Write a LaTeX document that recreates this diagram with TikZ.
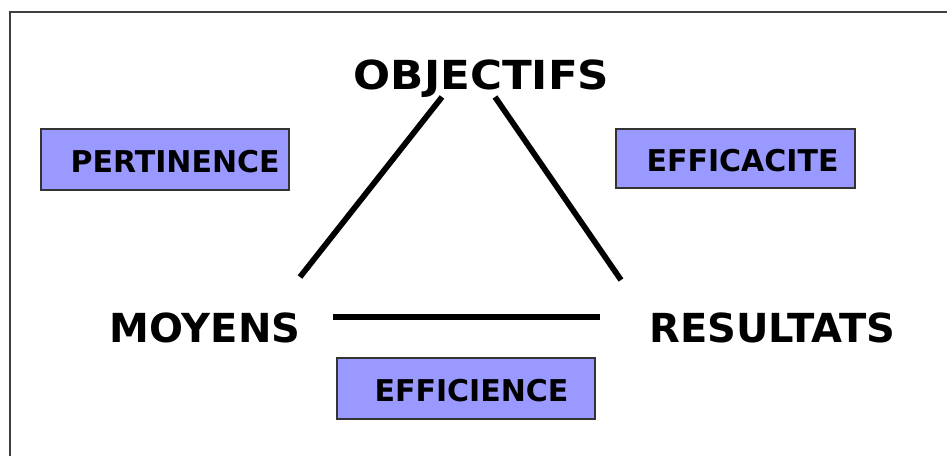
\documentclass[tikz,border=0pt]{standalone}
\usepackage{fontspec}
\setmainfont{DejaVu Sans}
\usetikzlibrary{positioning}
\definecolor{critfill}{HTML}{9999FF}
\definecolor{framegray}{HTML}{404040}
\tikzset{pole/.style={
  font=\fontsize{30}{36}\selectfont\bfseries,
  inner sep=0pt,anchor=base}}
\tikzset{critere/.style={
  rectangle,
  draw=black!80,fill=critfill,line width=1.1pt,
  inner sep=0pt}}
\tikzset{critlabel/.style={
  font=\fontsize{22.5}{27}\selectfont\bfseries,
  inner sep=0pt,anchor=base west}}
\tikzset{side/.style={line width=4.3pt}}

\begin{document}
\begin{tikzpicture}[x=0.75pt,y=-0.75pt]
  \useasboundingbox (0,0) rectangle (947,456);
  \draw[framegray,line width=1.1pt] (10,460) -- (10,12) -- (950,12);
  % the three poles
  \foreach \n/\p/\s/\l in {
      obj/{(481.5,90)}/1.09/OBJECTIFS,
      moy/{(205,342)}/1/MOYENS,
      res/{(772.5,342)}/1/RESULTATS }
    \node[pole,xscale=\s] (\n) at \p {\l};
  % the criteria boxes
  \foreach \n/\p/\w/\h/\dx/\l in {
      pert/{(165,159.5)}/186pt/45.75pt/22.5pt/PERTINENCE,
      effa/{(735.5,158.5)}/179.25pt/44.25pt/23.25pt/EFFICACITE,
      effi/{(466,388.5)}/193.5pt/45.75pt/28.5pt/EFFICIENCE }
    {
    \node[critere,minimum width=\w,minimum height=\h] (\n) at \p {};
    \node[critlabel] (\n text) at ([xshift=\dx,yshift=-10pt]\n.west) {\l};
    }
  % ends of the sides
  \coordinate (objMoy) at (442,97);
  \coordinate (moyObj) at (300,277);
  \coordinate (objRes) at (495,97);
  \coordinate (resObj) at (621,280);
  \coordinate (moyRes) at (333,317);
  \coordinate (resMoy) at (600,317);
  \foreach \m/\n in {objMoy/moyObj,objRes/resObj,moyRes/resMoy}
    \draw[side] (\m) -- (\n);
\end{tikzpicture}
\end{document}
